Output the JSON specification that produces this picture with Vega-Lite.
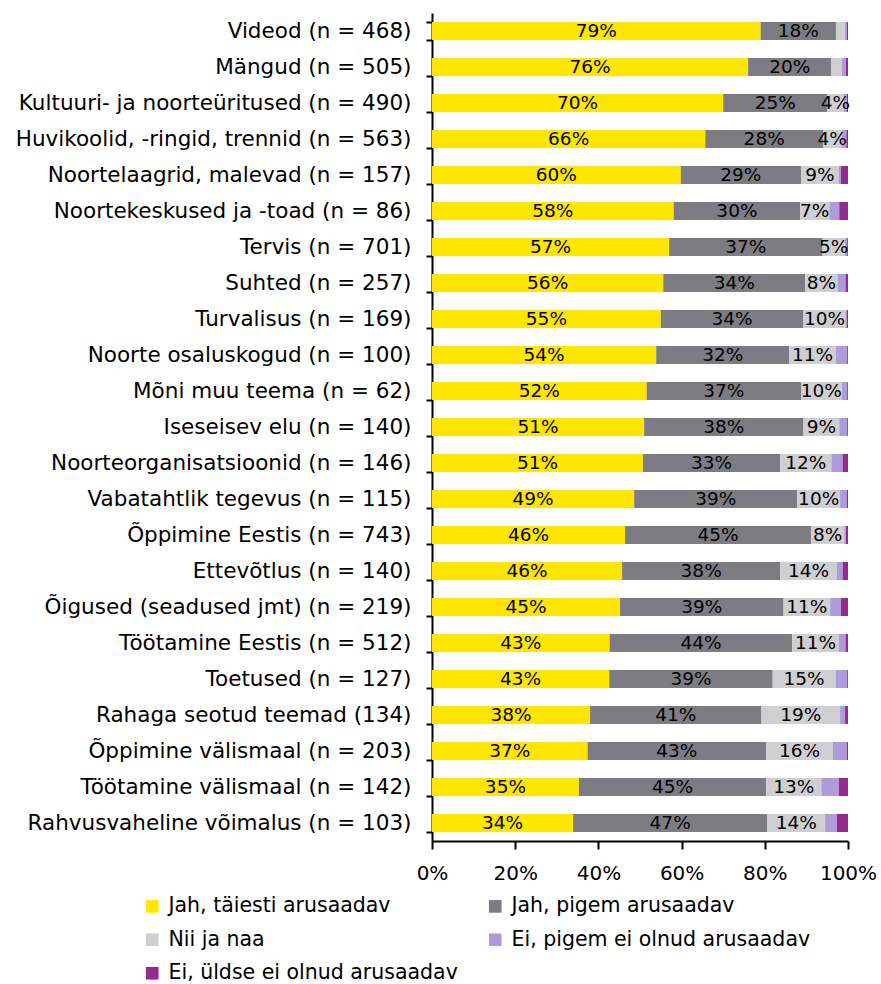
{
  "$schema": "https://vega.github.io/schema/vega-lite/v6.json",
  "width": 416,
  "height": 828,
  "autosize": {"type": "none"},
  "padding": {"left": 432, "top": 13, "right": 33, "bottom": 143},
  "background": "white",
  "config": {
    "font": "DejaVu Sans",
    "view": {"stroke": null},
    "axis": {"labelFont": "DejaVu Sans", "labelFontSize": 20, "labelColor": "#000", "domainColor": "#000", "tickColor": "#000", "domainWidth": 2, "tickWidth": 2, "grid": false, "title": null}
  },
  "data": {"values": [
    {"c": "Videod (n = 468)", "r": "Jah, täiesti arusaadav", "v": 0.79},
    {"c": "Videod (n = 468)", "r": "Jah, pigem arusaadav", "v": 0.181},
    {"c": "Videod (n = 468)", "r": "Nii ja naa", "v": 0.022},
    {"c": "Videod (n = 468)", "r": "Ei, pigem ei olnud arusaadav", "v": 0.004},
    {"c": "Videod (n = 468)", "r": "Ei, üldse ei olnud arusaadav", "v": 0.003},
    {"c": "Mängud (n = 505)", "r": "Jah, täiesti arusaadav", "v": 0.76},
    {"c": "Mängud (n = 505)", "r": "Jah, pigem arusaadav", "v": 0.2},
    {"c": "Mängud (n = 505)", "r": "Nii ja naa", "v": 0.025},
    {"c": "Mängud (n = 505)", "r": "Ei, pigem ei olnud arusaadav", "v": 0.01},
    {"c": "Mängud (n = 505)", "r": "Ei, üldse ei olnud arusaadav", "v": 0.005},
    {"c": "Kultuuri- ja noorteüritused (n = 490)", "r": "Jah, täiesti arusaadav", "v": 0.7},
    {"c": "Kultuuri- ja noorteüritused (n = 490)", "r": "Jah, pigem arusaadav", "v": 0.25},
    {"c": "Kultuuri- ja noorteüritused (n = 490)", "r": "Nii ja naa", "v": 0.04},
    {"c": "Kultuuri- ja noorteüritused (n = 490)", "r": "Ei, pigem ei olnud arusaadav", "v": 0.007},
    {"c": "Kultuuri- ja noorteüritused (n = 490)", "r": "Ei, üldse ei olnud arusaadav", "v": 0.003},
    {"c": "Huvikoolid, -ringid, trennid (n = 563)", "r": "Jah, täiesti arusaadav", "v": 0.657},
    {"c": "Huvikoolid, -ringid, trennid (n = 563)", "r": "Jah, pigem arusaadav", "v": 0.283},
    {"c": "Huvikoolid, -ringid, trennid (n = 563)", "r": "Nii ja naa", "v": 0.044},
    {"c": "Huvikoolid, -ringid, trennid (n = 563)", "r": "Ei, pigem ei olnud arusaadav", "v": 0.012},
    {"c": "Huvikoolid, -ringid, trennid (n = 563)", "r": "Ei, üldse ei olnud arusaadav", "v": 0.004},
    {"c": "Noortelaagrid, malevad (n = 157)", "r": "Jah, täiesti arusaadav", "v": 0.598},
    {"c": "Noortelaagrid, malevad (n = 157)", "r": "Jah, pigem arusaadav", "v": 0.289},
    {"c": "Noortelaagrid, malevad (n = 157)", "r": "Nii ja naa", "v": 0.091},
    {"c": "Noortelaagrid, malevad (n = 157)", "r": "Ei, pigem ei olnud arusaadav", "v": 0.005},
    {"c": "Noortelaagrid, malevad (n = 157)", "r": "Ei, üldse ei olnud arusaadav", "v": 0.017},
    {"c": "Noortekeskused ja -toad (n = 86)", "r": "Jah, täiesti arusaadav", "v": 0.581},
    {"c": "Noortekeskused ja -toad (n = 86)", "r": "Jah, pigem arusaadav", "v": 0.304},
    {"c": "Noortekeskused ja -toad (n = 86)", "r": "Nii ja naa", "v": 0.07},
    {"c": "Noortekeskused ja -toad (n = 86)", "r": "Ei, pigem ei olnud arusaadav", "v": 0.024},
    {"c": "Noortekeskused ja -toad (n = 86)", "r": "Ei, üldse ei olnud arusaadav", "v": 0.021},
    {"c": "Tervis (n = 701)", "r": "Jah, täiesti arusaadav", "v": 0.57},
    {"c": "Tervis (n = 701)", "r": "Jah, pigem arusaadav", "v": 0.369},
    {"c": "Tervis (n = 701)", "r": "Nii ja naa", "v": 0.053},
    {"c": "Tervis (n = 701)", "r": "Ei, pigem ei olnud arusaadav", "v": 0.006},
    {"c": "Tervis (n = 701)", "r": "Ei, üldse ei olnud arusaadav", "v": 0.002},
    {"c": "Suhted (n = 257)", "r": "Jah, täiesti arusaadav", "v": 0.556},
    {"c": "Suhted (n = 257)", "r": "Jah, pigem arusaadav", "v": 0.341},
    {"c": "Suhted (n = 257)", "r": "Nii ja naa", "v": 0.078},
    {"c": "Suhted (n = 257)", "r": "Ei, pigem ei olnud arusaadav", "v": 0.019},
    {"c": "Suhted (n = 257)", "r": "Ei, üldse ei olnud arusaadav", "v": 0.006},
    {"c": "Turvalisus (n = 169)", "r": "Jah, täiesti arusaadav", "v": 0.55},
    {"c": "Turvalisus (n = 169)", "r": "Jah, pigem arusaadav", "v": 0.343},
    {"c": "Turvalisus (n = 169)", "r": "Nii ja naa", "v": 0.101},
    {"c": "Turvalisus (n = 169)", "r": "Ei, pigem ei olnud arusaadav", "v": 0.003},
    {"c": "Turvalisus (n = 169)", "r": "Ei, üldse ei olnud arusaadav", "v": 0.003},
    {"c": "Noorte osaluskogud (n = 100)", "r": "Jah, täiesti arusaadav", "v": 0.539},
    {"c": "Noorte osaluskogud (n = 100)", "r": "Jah, pigem arusaadav", "v": 0.32},
    {"c": "Noorte osaluskogud (n = 100)", "r": "Nii ja naa", "v": 0.112},
    {"c": "Noorte osaluskogud (n = 100)", "r": "Ei, pigem ei olnud arusaadav", "v": 0.027},
    {"c": "Noorte osaluskogud (n = 100)", "r": "Ei, üldse ei olnud arusaadav", "v": 0.002},
    {"c": "Mõni muu teema (n = 62)", "r": "Jah, täiesti arusaadav", "v": 0.516},
    {"c": "Mõni muu teema (n = 62)", "r": "Jah, pigem arusaadav", "v": 0.371},
    {"c": "Mõni muu teema (n = 62)", "r": "Nii ja naa", "v": 0.098},
    {"c": "Mõni muu teema (n = 62)", "r": "Ei, pigem ei olnud arusaadav", "v": 0.013},
    {"c": "Mõni muu teema (n = 62)", "r": "Ei, üldse ei olnud arusaadav", "v": 0.002},
    {"c": "Iseseisev elu (n = 140)", "r": "Jah, täiesti arusaadav", "v": 0.51},
    {"c": "Iseseisev elu (n = 140)", "r": "Jah, pigem arusaadav", "v": 0.383},
    {"c": "Iseseisev elu (n = 140)", "r": "Nii ja naa", "v": 0.086},
    {"c": "Iseseisev elu (n = 140)", "r": "Ei, pigem ei olnud arusaadav", "v": 0.019},
    {"c": "Iseseisev elu (n = 140)", "r": "Ei, üldse ei olnud arusaadav", "v": 0.002},
    {"c": "Noorteorganisatsioonid (n = 146)", "r": "Jah, täiesti arusaadav", "v": 0.507},
    {"c": "Noorteorganisatsioonid (n = 146)", "r": "Jah, pigem arusaadav", "v": 0.33},
    {"c": "Noorteorganisatsioonid (n = 146)", "r": "Nii ja naa", "v": 0.123},
    {"c": "Noorteorganisatsioonid (n = 146)", "r": "Ei, pigem ei olnud arusaadav", "v": 0.027},
    {"c": "Noorteorganisatsioonid (n = 146)", "r": "Ei, üldse ei olnud arusaadav", "v": 0.013},
    {"c": "Vabatahtlik tegevus (n = 115)", "r": "Jah, täiesti arusaadav", "v": 0.486},
    {"c": "Vabatahtlik tegevus (n = 115)", "r": "Jah, pigem arusaadav", "v": 0.392},
    {"c": "Vabatahtlik tegevus (n = 115)", "r": "Nii ja naa", "v": 0.103},
    {"c": "Vabatahtlik tegevus (n = 115)", "r": "Ei, pigem ei olnud arusaadav", "v": 0.016},
    {"c": "Vabatahtlik tegevus (n = 115)", "r": "Ei, üldse ei olnud arusaadav", "v": 0.003},
    {"c": "Õppimine Eestis (n = 743)", "r": "Jah, täiesti arusaadav", "v": 0.464},
    {"c": "Õppimine Eestis (n = 743)", "r": "Jah, pigem arusaadav", "v": 0.447},
    {"c": "Õppimine Eestis (n = 743)", "r": "Nii ja naa", "v": 0.08},
    {"c": "Õppimine Eestis (n = 743)", "r": "Ei, pigem ei olnud arusaadav", "v": 0.004},
    {"c": "Õppimine Eestis (n = 743)", "r": "Ei, üldse ei olnud arusaadav", "v": 0.005},
    {"c": "Ettevõtlus (n = 140)", "r": "Jah, täiesti arusaadav", "v": 0.457},
    {"c": "Ettevõtlus (n = 140)", "r": "Jah, pigem arusaadav", "v": 0.38},
    {"c": "Ettevõtlus (n = 140)", "r": "Nii ja naa", "v": 0.136},
    {"c": "Ettevõtlus (n = 140)", "r": "Ei, pigem ei olnud arusaadav", "v": 0.014},
    {"c": "Ettevõtlus (n = 140)", "r": "Ei, üldse ei olnud arusaadav", "v": 0.013},
    {"c": "Õigused (seadused jmt) (n = 219)", "r": "Jah, täiesti arusaadav", "v": 0.452},
    {"c": "Õigused (seadused jmt) (n = 219)", "r": "Jah, pigem arusaadav", "v": 0.393},
    {"c": "Õigused (seadused jmt) (n = 219)", "r": "Nii ja naa", "v": 0.112},
    {"c": "Õigused (seadused jmt) (n = 219)", "r": "Ei, pigem ei olnud arusaadav", "v": 0.026},
    {"c": "Õigused (seadused jmt) (n = 219)", "r": "Ei, üldse ei olnud arusaadav", "v": 0.017},
    {"c": "Töötamine Eestis (n = 512)", "r": "Jah, täiesti arusaadav", "v": 0.427},
    {"c": "Töötamine Eestis (n = 512)", "r": "Jah, pigem arusaadav", "v": 0.439},
    {"c": "Töötamine Eestis (n = 512)", "r": "Nii ja naa", "v": 0.112},
    {"c": "Töötamine Eestis (n = 512)", "r": "Ei, pigem ei olnud arusaadav", "v": 0.016},
    {"c": "Töötamine Eestis (n = 512)", "r": "Ei, üldse ei olnud arusaadav", "v": 0.006},
    {"c": "Toetused (n = 127)", "r": "Jah, täiesti arusaadav", "v": 0.426},
    {"c": "Toetused (n = 127)", "r": "Jah, pigem arusaadav", "v": 0.393},
    {"c": "Toetused (n = 127)", "r": "Nii ja naa", "v": 0.151},
    {"c": "Toetused (n = 127)", "r": "Ei, pigem ei olnud arusaadav", "v": 0.028},
    {"c": "Toetused (n = 127)", "r": "Ei, üldse ei olnud arusaadav", "v": 0.002},
    {"c": "Rahaga seotud teemad (134)", "r": "Jah, täiesti arusaadav", "v": 0.38},
    {"c": "Rahaga seotud teemad (134)", "r": "Jah, pigem arusaadav", "v": 0.412},
    {"c": "Rahaga seotud teemad (134)", "r": "Nii ja naa", "v": 0.189},
    {"c": "Rahaga seotud teemad (134)", "r": "Ei, pigem ei olnud arusaadav", "v": 0.012},
    {"c": "Rahaga seotud teemad (134)", "r": "Ei, üldse ei olnud arusaadav", "v": 0.007},
    {"c": "Õppimine välismaal (n = 203)", "r": "Jah, täiesti arusaadav", "v": 0.374},
    {"c": "Õppimine välismaal (n = 203)", "r": "Jah, pigem arusaadav", "v": 0.429},
    {"c": "Õppimine välismaal (n = 203)", "r": "Nii ja naa", "v": 0.161},
    {"c": "Õppimine välismaal (n = 203)", "r": "Ei, pigem ei olnud arusaadav", "v": 0.033},
    {"c": "Õppimine välismaal (n = 203)", "r": "Ei, üldse ei olnud arusaadav", "v": 0.003},
    {"c": "Töötamine välismaal (n = 142)", "r": "Jah, täiesti arusaadav", "v": 0.353},
    {"c": "Töötamine välismaal (n = 142)", "r": "Jah, pigem arusaadav", "v": 0.45},
    {"c": "Töötamine välismaal (n = 142)", "r": "Nii ja naa", "v": 0.133},
    {"c": "Töötamine välismaal (n = 142)", "r": "Ei, pigem ei olnud arusaadav", "v": 0.042},
    {"c": "Töötamine välismaal (n = 142)", "r": "Ei, üldse ei olnud arusaadav", "v": 0.022},
    {"c": "Rahvusvaheline võimalus (n = 103)", "r": "Jah, täiesti arusaadav", "v": 0.339},
    {"c": "Rahvusvaheline võimalus (n = 103)", "r": "Jah, pigem arusaadav", "v": 0.467},
    {"c": "Rahvusvaheline võimalus (n = 103)", "r": "Nii ja naa", "v": 0.139},
    {"c": "Rahvusvaheline võimalus (n = 103)", "r": "Ei, pigem ei olnud arusaadav", "v": 0.028},
    {"c": "Rahvusvaheline võimalus (n = 103)", "r": "Ei, üldse ei olnud arusaadav", "v": 0.027}
  ]},
  "transform": [
    {"window": [{"op": "row_number", "as": "k"}], "groupby": ["c"]}
  ],
  "encoding": {
    "y": {"field": "c", "type": "nominal", "sort": null,
      "scale": {"paddingInner": 0.5, "paddingOuter": 0.25},
      "axis": {"bandPosition": 0, "tickBand": "extent", "tickSize": 6, "labelPadding": 15, "labelLimit": 440, "labelFontSize": 21.5}},
    "x": {"field": "v", "type": "quantitative", "stack": "zero",
      "scale": {"domain": [0, 1], "nice": false},
      "axis": {"format": ".0%", "values": [0, 0.2, 0.4, 0.6, 0.8, 1], "tickSize": 8, "labelPadding": 14, "labelFontSize": 20, "labelFlush": false}},
    "order": {"field": "k", "type": "quantitative", "sort": "ascending"}
  },
  "layer": [
    {
      "mark": {"type": "bar"},
      "encoding": {
        "color": {"field": "r", "type": "nominal",
          "scale": {"domain": ["Jah, täiesti arusaadav", "Jah, pigem arusaadav", "Nii ja naa", "Ei, pigem ei olnud arusaadav", "Ei, üldse ei olnud arusaadav"],
                    "range": ["#FFE600", "#7D7C83", "#CFCFD2", "#AE9BDC", "#952A8E"]},
          "sort": ["Jah, täiesti arusaadav", "Jah, pigem arusaadav", "Nii ja naa", "Ei, pigem ei olnud arusaadav", "Ei, üldse ei olnud arusaadav"],
          "legend": {"title": null, "orient": "none", "legendX": -290, "legendY": 883, "columns": 2, "direction": "horizontal",
            "symbolType": "square", "symbolSize": 160, "symbolStrokeWidth": 0, "labelFontSize": 20.5, "labelFont": "DejaVu Sans", "labelColor": "#000",
            "rowPadding": 12.5, "columnPadding": 27, "labelLimit": 400, "symbolOffset": 0, "labelOffset": 6}}
      }
    },
    {
      "mark": {"type": "text", "fontSize": 18.5, "color": "#000", "font": "DejaVu Sans"},
      "encoding": {
        "x": {"field": "v", "type": "quantitative", "stack": "zero", "bandPosition": 0.5},
        "detail": {"field": "r", "type": "nominal"},
        "text": {"field": "v", "type": "quantitative", "format": ".0%",
          "condition": {"test": "datum.v < 0.03 || datum.r === 'Ei, pigem ei olnud arusaadav' || datum.r === 'Ei, üldse ei olnud arusaadav'", "value": ""}}
      }
    }
  ]
}
